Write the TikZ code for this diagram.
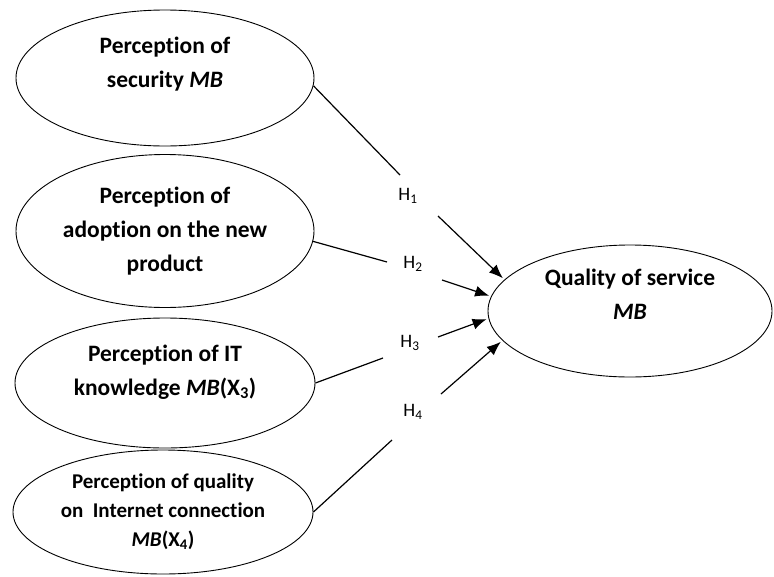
\documentclass[tikz,border=0pt]{standalone}
\usepackage{fontspec}
\setmainfont{Carlito}[Ligatures=NoCommon]
\usetikzlibrary{arrows.meta,shapes.geometric}
\begin{document}
\begin{tikzpicture}[x=1pt, y=-1pt, >={Latex[length=14pt,width=11pt]},
    ell/.style={draw, ellipse, inner sep=0pt, line width=0.9pt, align=center,
      font=\fontsize{23.5}{34}\selectfont\bfseries},
    hyp/.style={font=\fontsize{19}{22}\selectfont},
    link/.style={line width=1.2pt}]
  \useasboundingbox (0,0) rectangle (774,576);
  % perceptions on the left
  \node[ell, minimum width=298pt, minimum height=136pt] (s1) at (165,78)
    {Perception of\\ security \textit{MB}\\[-2pt]\mbox{}};
  \node[ell, minimum width=298pt, minimum height=153pt] (s2) at (165,231)
    {Perception of\\ adoption on the new\\ product};
  \node[ell, minimum width=300pt, minimum height=130pt] (s3) at (165,383)
    {Perception of IT\\ knowledge \textit{MB}(X\textsubscript{3})\\[-8pt]\mbox{}};
  \node[ell, minimum width=300pt, minimum height=124pt,
    font=\fontsize{21}{29}\selectfont\bfseries] (s4) at (163,512)
    {Perception of quality\\ on~ Internet connection\\ \textit{MB}(X\textsubscript{4})};
  % quality of service
  \node[ell, minimum width=284pt, minimum height=132pt] (q) at (630,311)
    {Quality of service\\ \textit{MB}\\\mbox{}};
  % hypotheses
  \node[hyp] (h1) at (408,196) {H\textsubscript{1}};
  \node[hyp] (h2) at (413,264) {H\textsubscript{2}};
  \node[hyp] (h3) at (410,343) {H\textsubscript{3}};
  \node[hyp] (h4) at (413,412) {H\textsubscript{4}};
  \coordinate (a1) at (400,175); \coordinate (b1) at (438,216);
  \coordinate (a2) at (387,262); \coordinate (b2) at (442,280);
  \coordinate (a3) at (383,358); \coordinate (b3) at (438,337);
  \coordinate (a4) at (392,440); \coordinate (b4) at (441,394);
  \draw[link] (s1.-3) -- (a1);
  \draw[link, ->, shorten >=2pt] (b1) -- (q.166);
  \draw[link] (s2.-4) -- (a2);
  \draw[link, ->, shorten >=2pt] (b2) -- (q.174);
  \draw[link] (s3.east) -- (a3);
  \draw[link, ->, shorten >=2pt] (b3) -- (q.183);
  \draw[link] (s4.east) -- (a4);
  \draw[link, ->, shorten >=2pt] (b4) -- (q.193);
\end{tikzpicture}
\end{document}
